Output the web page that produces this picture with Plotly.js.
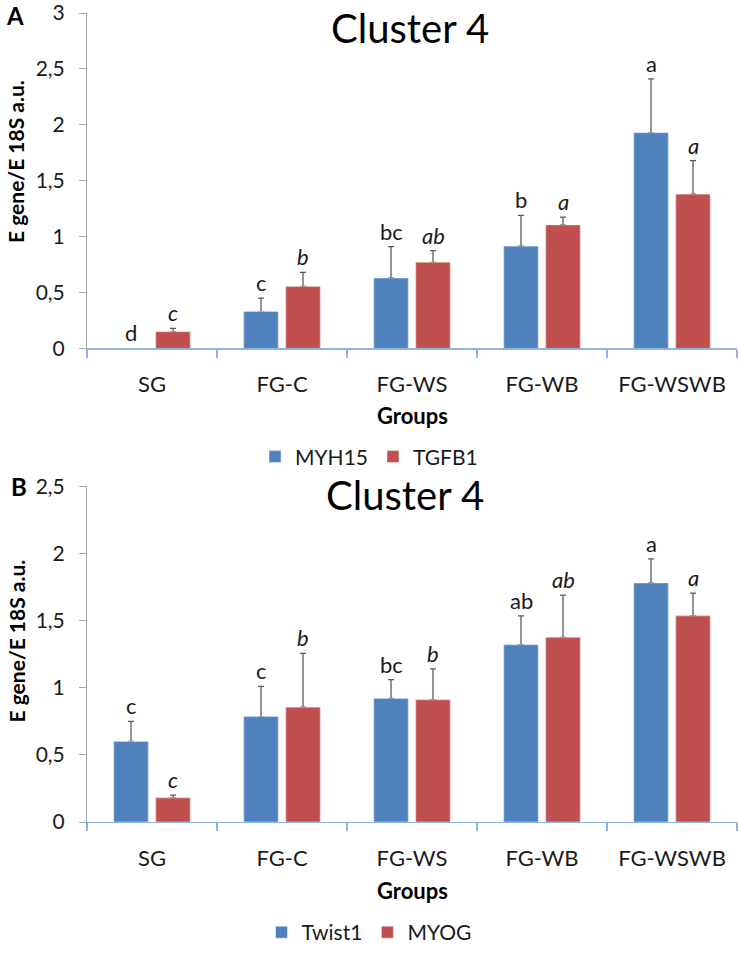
<!DOCTYPE html>
<html>
<head>
<meta charset="utf-8">
<script src="https://cdn.plot.ly/plotly-3.0.1.min.js"></script>
<style>html,body{margin:0;padding:0;background:#fff;}#chart{width:739px;height:955px;}</style>
</head>
<body>
<div id="chart"></div>
<script>
// ---- data ----
const groups = ['SG', 'FG-C', 'FG-WS', 'FG-WB', 'FG-WSWB'];

// Panel A
const myh15 = [0, 0.33, 0.63, 0.915, 1.93];
const myh15Err = [null, 0.12, 0.28, 0.275, 0.48];
const myh15Letters = ['d', 'c', 'bc', 'b', 'a'];
const tgfb1 = [0.15, 0.555, 0.77, 1.105, 1.38];
const tgfb1Err = [0.03, 0.125, 0.105, 0.07, 0.30];
const tgfb1Letters = ['c', 'b', 'ab', 'a', 'a'];

// Panel B
const twist1 = [0.60, 0.785, 0.92, 1.32, 1.78];
const twist1Err = [0.15, 0.225, 0.14, 0.215, 0.18];
const twist1Letters = ['c', 'c', 'bc', 'ab', 'a'];
const myog = [0.18, 0.855, 0.91, 1.375, 1.535];
const myogErr = [0.02, 0.40, 0.23, 0.315, 0.17];
const myogLetters = ['c', 'b', 'b', 'ab', 'a'];

const yTicksA = [0, 0.5, 1, 1.5, 2, 2.5, 3];
const yTicksB = [0, 0.5, 1, 1.5, 2, 2.5];

// ---- style ----
const FONT = 'Lato, "Open Sans", sans-serif';
const BLUE = '#4F81BD', RED = '#C0504D';
const BARGAP = 0.354, GROUPGAP = 0.18;
const OFF = (1 - BARGAP) / 4;

function errBar(err) {
  return {
    type: 'data', symmetric: false, visible: true,
    array: err.map(e => e === null ? NaN : e),
    arrayminus: err.map(e => e === null ? NaN : 0),
    color: '#5a5a5a', thickness: 1.3, width: 3
  };
}
function barTrace(name, y, err, color, xa, ya, leg, grp) {
  return {
    type: 'bar', name: name, x: groups, y: y, xaxis: xa, yaxis: ya, legend: leg,
    offsetgroup: grp,
    marker: {color: color, line: {color: 'rgba(255,255,255,0.45)', width: 1}},
    error_y: errBar(err), hoverinfo: 'skip'
  };
}
// plain copy of a bar drawn on top, so the lower end of the error bar is hidden
function coverTrace(y, color, xa, ya, grp) {
  return {
    type: 'bar', x: groups, y: y, xaxis: xa, yaxis: ya, offsetgroup: grp,
    showlegend: false, hoverinfo: 'skip',
    marker: {color: color, line: {color: 'rgba(255,255,255,0.45)', width: 1}}
  };
}

const data = [
  barTrace('MYH15', myh15, myh15Err, BLUE, 'x', 'y', 'legend', 'a1'),
  barTrace('TGFB1', tgfb1, tgfb1Err, RED, 'x', 'y', 'legend', 'a2'),
  coverTrace(myh15, BLUE, 'x', 'y', 'a1'),
  coverTrace(tgfb1, RED, 'x', 'y', 'a2'),
  barTrace('Twist1', twist1, twist1Err, BLUE, 'x2', 'y2', 'legend2', 'b1'),
  barTrace('MYOG', myog, myogErr, RED, 'x2', 'y2', 'legend2', 'b2'),
  coverTrace(twist1, BLUE, 'x2', 'y2', 'b1'),
  coverTrace(myog, RED, 'x2', 'y2', 'b2')
];

const annotations = [];
function letterAnns(vals, errs, letters, side, xr, yr, italic) {
  letters.forEach((t, i) => {
    annotations.push({
      xref: xr, yref: yr, x: i + side * OFF, y: vals[i] + (errs[i] || 0),
      text: t, showarrow: false, xanchor: 'center', yanchor: 'bottom', yshift: 0,
      font: {family: FONT, size: 22, color: '#1a1a1a', style: italic ? 'italic' : 'normal'}
    });
  });
}
letterAnns(myh15, myh15Err, myh15Letters, -1, 'x', 'y', false);
letterAnns(tgfb1, tgfb1Err, tgfb1Letters, 1, 'x', 'y', true);
letterAnns(twist1, twist1Err, twist1Letters, -1, 'x2', 'y2', false);
letterAnns(myog, myogErr, myogLetters, 1, 'x2', 'y2', true);

// plot area in pixels: x 87..737, y 13..833 (height 820)
function py(p) { return (833 - p) / 820; }
function px(p) { return (p - 87) / 650; }

const txt = (text, x, y, size, opts) => Object.assign({
  xref: 'paper', yref: 'paper', x: x, y: y, text: text, showarrow: false,
  xanchor: 'center', yanchor: 'middle',
  font: {family: FONT, size: size, color: '#000'}
}, opts || {});

annotations.push(txt('Cluster 4', px(410), py(28), 40));
annotations.push(txt('Cluster 4', px(405), py(502), 40));
annotations.push(txt('<b>A</b>', px(15), py(16), 24));
annotations.push(txt('<b>B</b>', px(19), py(493), 24));
annotations.push(txt('<b>E gene/E 18S a.u.</b>', px(16), py(164), 21, {textangle: -90}));
annotations.push(txt('<b>E gene/E 18S a.u.</b>', px(16), py(650), 21, {textangle: -90}));
annotations.push(txt('<b>Groups</b>', px(412), py(421), 22));
annotations.push(txt('<b>Groups</b>', px(412), py(902), 22));

const xAxisBase = {
  type: 'category', showline: true, linecolor: '#8DB4E2', linewidth: 1.3,
  ticks: 'outside', ticklen: 8, tickcolor: '#8DB4E2', tickwidth: 1.3, tickson: 'boundaries',
  tickfont: {family: FONT, size: 22, color: '#1a1a1a'}, ticklabelstandoff: 16,
  showgrid: false, zeroline: false, fixedrange: true
};
const yAxisBase = {
  showline: true, linecolor: '#A6A6A6', linewidth: 1,
  ticks: 'outside', ticklen: 7, tickcolor: '#A6A6A6',
  tickfont: {family: FONT, size: 21, color: '#1a1a1a'}, ticklabelstandoff: 10,
  ticklabeloverflow: 'allow',
  showgrid: false, zeroline: false, fixedrange: true, tickmode: 'array'
};

const layout = {
  width: 739, height: 955,
  margin: {l: 87, r: 2, t: 13, b: 122},
  paper_bgcolor: '#fff', plot_bgcolor: '#fff',
  separators: ',.',
  barmode: 'group', bargap: BARGAP, bargroupgap: GROUPGAP,
  showlegend: true,
  xaxis: Object.assign({}, xAxisBase, {anchor: 'y', domain: [0, 1]}),
  yaxis: Object.assign({}, yAxisBase, {anchor: 'x', domain: [py(353), 1], range: [0, 3], tickvals: yTicksA}),
  xaxis2: Object.assign({}, xAxisBase, {anchor: 'y2', domain: [0, 1]}),
  yaxis2: Object.assign({}, yAxisBase, {anchor: 'x2', domain: [0, py(492.7)], range: [0, 2.5], tickvals: yTicksB}),
  legend: {orientation: 'h', x: px(369), xanchor: 'center', y: py(463), yanchor: 'middle',
           font: {family: FONT, size: 21, color: '#1a1a1a'}, bgcolor: 'rgba(0,0,0,0)', itemwidth: 30},
  legend2: {orientation: 'h', x: px(369), xanchor: 'center', y: py(945), yanchor: 'middle',
           font: {family: FONT, size: 21, color: '#1a1a1a'}, bgcolor: 'rgba(0,0,0,0)', itemwidth: 30},
  annotations: annotations
};

Plotly.newPlot('chart', data, layout, {displayModeBar: false, staticPlot: true});
</script>
</body>
</html>
